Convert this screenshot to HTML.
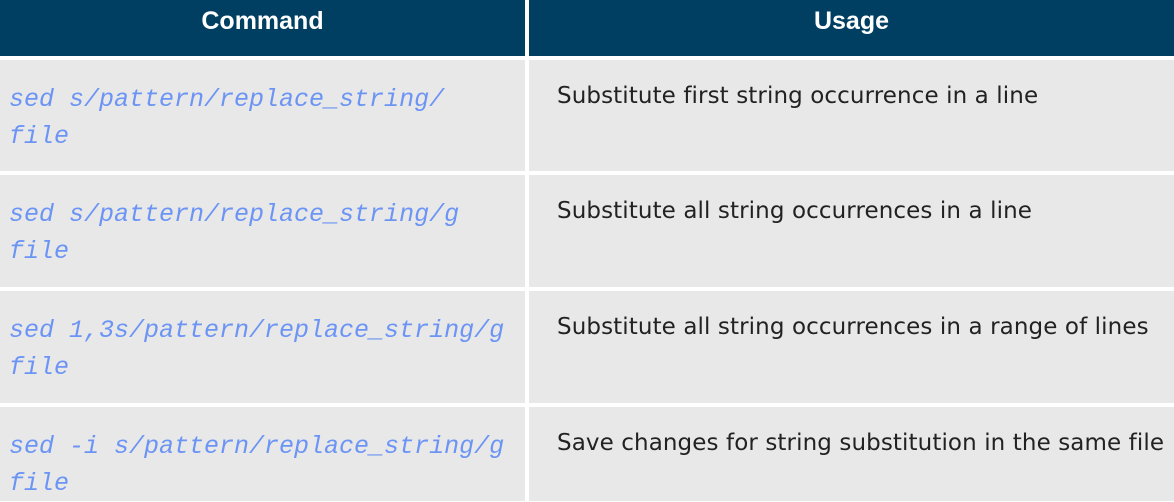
<!DOCTYPE html>
<html><head><style>
html,body{margin:0;padding:0;background:#fff;}
body{width:1174px;height:501px;position:relative;overflow:hidden;}
.c{position:absolute;box-sizing:border-box;}
.h{background:#003f62;color:#fff;font:bold 25px "Liberation Sans",sans-serif;text-align:center;line-height:42px;}
.g{background:#e8e8e8;}
.cmd{font:italic 25px/37px "Liberation Mono",monospace;color:#6b94f5;padding:21px 0 0 9px;white-space:pre;}
.u{font:23px/1 "DejaVu Sans","Liberation Sans",sans-serif;color:#222;padding:25px 0 0 28px;white-space:nowrap;letter-spacing:0.1px;}
</style></head><body>
<div class="c h" style="left:0;top:0;width:525px;height:56px;">Command</div>
<div class="c h" style="left:529px;top:0;width:645px;height:56px;">Usage</div>

<div class="c g cmd" style="left:0;top:60px;width:525px;height:111px;">sed s/pattern/replace_string/
file</div>
<div class="c g u" style="left:529px;top:60px;width:645px;height:111px;">Substitute first string occurrence in a line</div>

<div class="c g cmd" style="left:0;top:175px;width:525px;height:112px;">sed s/pattern/replace_string/g
file</div>
<div class="c g u" style="left:529px;top:175px;width:645px;height:112px;">Substitute all string occurrences in a line</div>

<div class="c g cmd" style="left:0;top:291px;width:525px;height:112px;">sed 1,3s/pattern/replace_string/g
file</div>
<div class="c g u" style="left:529px;top:291px;width:645px;height:112px;">Substitute all string occurrences in a range of lines</div>

<div class="c g cmd" style="left:0;top:407px;width:525px;height:94px;">sed -i s/pattern/replace_string/g
file</div>
<div class="c g u" style="left:529px;top:407px;width:645px;height:94px;">Save changes for string substitution in the same file</div>
</body></html>
